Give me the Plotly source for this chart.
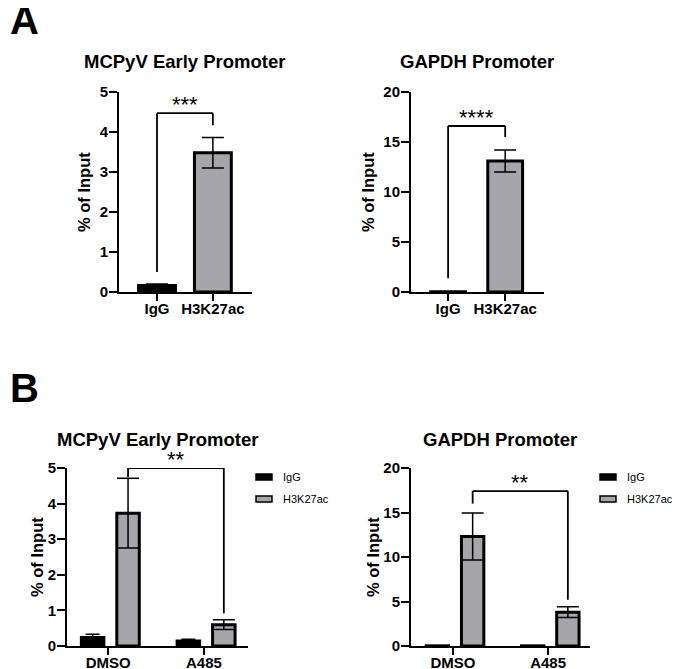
import plotly.graph_objects as go

# the page body keeps its default 8px margin, so the figure is drawn 8px in
W, H = 680, 669
PAD = 8
FONT = "Liberation Sans, Arial, sans-serif"
BLACK = "#000000"
GREY = "#a5a5aa"

# ---- panel A: IgG vs H3K27ac ----
a_groups = ["IgG", "H3K27ac"]
a_mcpyv = [0.16, 3.48]
a_mcpyv_err = [0.04, 0.38]
a_gapdh = [0.02, 13.1]
a_gapdh_err = [0.0, 1.1]

# ---- panel B: DMSO vs A485 ----
b_treat = ["DMSO", "A485"]
b_series = ["IgG", "H3K27ac"]
b_mcpyv_igg = [0.24, 0.14]
b_mcpyv_igg_err = [0.09, 0.05]
b_mcpyv_h3k = [3.73, 0.60]
b_mcpyv_h3k_err = [0.98, 0.14]
b_gapdh_igg = [0.02, 0.02]
b_gapdh_igg_err = [0.0, 0.0]
b_gapdh_h3k = [12.3, 3.8]
b_gapdh_h3k_err = [2.65, 0.6]

panel_titles = ["MCPyV Early Promoter", "GAPDH Promoter",
                "MCPyV Early Promoter", "GAPDH Promoter"]
y_title = "% of Input"
sig_stars = ["***", "****", "**", "**"]
# left leg bottom, bracket top, right leg bottom
sig_levels = [[0.5, 4.47, 4.17], [1.37, 16.6, 15.5],
              [4.75, 5.0, 0.92], [16.0, 17.4, 5.2]]
y_max = [5, 20, 5, 20]
y_dtick = [1, 5, 1, 5]

FW, FH = W - PAD, H - PAD


def px(x):
    return (x - PAD) / FW


def py(y):
    return 1 - (y - PAD) / FH


# domains in window pixels (x0, x1), (ytop, ybottom), x range,
# title centre, y-title centre x
panels = [
    dict(x=(119, 252), y=(92, 292), xr=(-0.68, 1.70), t=(185, 61), yt=84),
    dict(x=(411, 544), y=(92, 292), xr=(-0.65, 1.68), t=(477, 61), yt=368),
    dict(x=(67, 248), y=(468, 646), xr=(-0.43, 1.46), t=(158, 440), yt=37),
    dict(x=(411, 590), y=(468, 646), xr=(-0.44, 1.44), t=(500, 440), yt=373),
]

fig = go.Figure()

bar_line = dict(color=BLACK, width=3)

def err(arr, w):
    return dict(type="data", array=arr, color=BLACK, thickness=1.5, width=w)

# panel A bars
fig.add_trace(go.Bar(x=a_groups, y=a_mcpyv, width=0.66,
                     marker=dict(color=[BLACK, GREY], line=bar_line),
                     error_y=err(a_mcpyv_err, 11), xaxis="x", yaxis="y"))
fig.add_trace(go.Bar(x=a_groups, y=a_gapdh, width=0.61,
                     marker=dict(color=[BLACK, GREY], line=bar_line),
                     error_y=err(a_gapdh_err, 11), xaxis="x2", yaxis="y2"))

# panel B grouped bars
b_offsets = [-0.28, 0.09]
b_width = 0.235
b_colors = [BLACK, GREY]
b_caps = [7, 11]
b_data = [
    [(b_mcpyv_igg, b_mcpyv_igg_err), (b_mcpyv_h3k, b_mcpyv_h3k_err)],
    [(b_gapdh_igg, b_gapdh_igg_err), (b_gapdh_h3k, b_gapdh_h3k_err)],
]
for p, axn in enumerate(["3", "4"]):
    for s, name in enumerate(b_series):
        vals, errs = b_data[p][s]
        fig.add_trace(go.Bar(x=b_treat, y=vals, name=name,
                             offset=b_offsets[s], width=b_width,
                             marker=dict(color=b_colors[s], line=bar_line),
                             error_y=err(errs, b_caps[s]),
                             xaxis="x" + axn, yaxis="y" + axn))

layout = dict(width=FW, height=FH, margin=dict(l=0, r=0, t=0, b=0),
              plot_bgcolor="white", paper_bgcolor="white",
              showlegend=False, barmode="group",
              font=dict(family=FONT, color=BLACK))

axis_common = dict(showline=True, linewidth=2, linecolor=BLACK, automargin=False,
                   ticks="outside", ticklen=7, tickwidth=2, tickcolor=BLACK,
                   showgrid=False, zeroline=False,
                   tickfont=dict(size=15, weight="bold", family=FONT, color=BLACK))

shapes = []
annotations = []
h3k_center = b_offsets[1] + b_width / 2
for i, p in enumerate(panels):
    sfx = "" if i == 0 else str(i + 1)
    layout["xaxis" + sfx] = dict(axis_common, domain=[px(p["x"][0]), px(p["x"][1])],
                                 range=list(p["xr"]), anchor="y" + sfx,
                                 type="category", ticklabelstandoff=-5)
    layout["yaxis" + sfx] = dict(axis_common, domain=[py(p["y"][1]), py(p["y"][0])],
                                 range=[0, y_max[i]], dtick=y_dtick[i],
                                 anchor="x" + sfx, ticklen=8, ticklabelstandoff=-2)
    annotations.append(dict(text=y_title, textangle=-90,
                            x=px(p["yt"]), y=py((p["y"][0] + p["y"][1]) / 2),
                            xref="paper", yref="paper", showarrow=False,
                            xanchor="center", yanchor="middle",
                            font=dict(size=16.5, weight="bold")))
    annotations.append(dict(text=panel_titles[i], x=px(p["t"][0]), y=py(p["t"][1]),
                            xref="paper", yref="paper", showarrow=False,
                            xanchor="center", yanchor="middle",
                            font=dict(size=18.5, weight="bold")))
    # significance bracket
    if i < 2:
        xl, xr = 0, 1
    else:
        xl, xr = h3k_center, 1 + h3k_center
    lo_l, top, lo_r = sig_levels[i]
    for x0, y0, x1, y1 in [(xl, lo_l, xl, top), (xl, top, xr, top), (xr, top, xr, lo_r)]:
        shapes.append(dict(type="line", xref="x" + sfx, yref="y" + sfx,
                           x0=x0, y0=y0, x1=x1, y1=y1,
                           line=dict(color=BLACK, width=1.8)))
    annotations.append(dict(text=sig_stars[i], x=(xl + xr) / 2, y=top,
                            xref="x" + sfx, yref="y" + sfx, showarrow=False,
                            xanchor="center", yanchor="bottom", yshift=-6,
                            font=dict(size=22)))

# panel letters
for letter, ly in [("A", 20), ("B", 388)]:
    annotations.append(dict(text=letter, x=0, y=py(ly), xref="paper", yref="paper",
                            showarrow=False, xanchor="left", yanchor="middle",
                            font=dict(size=40, weight="bold")))

# legends for panel B
for lx in [256, 600]:
    for s, name in enumerate(b_series):
        cy = 477 + 22 * s
        shapes.append(dict(type="rect", xref="paper", yref="paper",
                           x0=px(lx), x1=px(lx + 16), y0=py(cy + 3), y1=py(cy - 3),
                           fillcolor=b_colors[s], line=dict(color=BLACK, width=1.5)))
        annotations.append(dict(text=name, x=px(lx + 25), y=py(cy), xref="paper",
                                yref="paper", showarrow=False, xanchor="left",
                                yanchor="middle", font=dict(size=11)))

layout["shapes"] = shapes
layout["annotations"] = annotations
fig.update_layout(**layout)

fig.write_html("out.html")
